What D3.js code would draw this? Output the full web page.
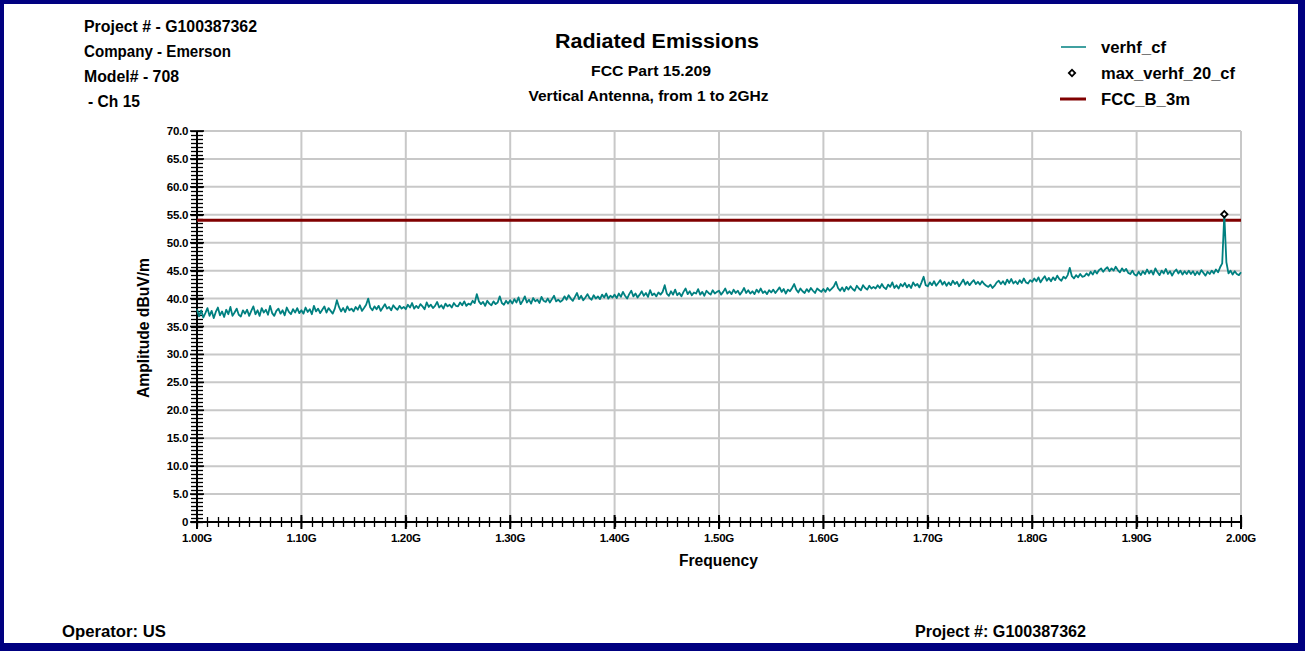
<!DOCTYPE html>
<html>
<head>
<meta charset="utf-8">
<script src="https://cdn.jsdelivr.net/npm/d3@7"></script>
<style>
  html, body { margin: 0; padding: 0; background: #fff; }
  svg { display: block; font-family: "Liberation Sans", Arial, sans-serif; }
</style>
</head>
<body>
<svg id="chart" width="1305" height="651"></svg>
<script>
// Sweep settings (GHz)
const sweepStartGHz = 1.0;
const sweepStepGHz = 0.002;

// verhf_cf trace, dBuV/m, one value per 2 MHz step from 1.000 to 2.000 GHz
const verhfCf = [
  38.1, 36.8, 37.9, 36.6, 37.4, 38.3, 36.9, 37.8, 36.5, 37.6, 38.4, 37.0, 37.7, 36.7, 38.0, 37.2, 38.5, 36.9, 37.5, 38.2, 37.1, 36.8, 37.9, 37.3, 38.0,
  36.9, 37.8, 38.6, 37.2, 37.9, 36.9, 38.3, 37.5, 38.0, 37.1, 38.7, 37.4, 36.9, 37.8, 38.2, 37.3, 37.9, 37.0, 38.4, 37.6, 37.2, 38.1, 37.5, 38.3, 37.4,
  37.9, 37.3, 38.4, 37.6, 38.1, 37.2, 38.7, 37.7, 38.2, 37.4, 38.0, 38.6, 37.5, 38.3, 37.8, 37.3, 38.2, 39.7, 38.5, 37.7, 38.3, 37.6, 38.6, 37.9, 38.2,
  37.7, 38.5, 38.0, 38.8, 37.8, 38.3, 38.9, 40.0, 38.4, 37.9, 38.6, 38.1, 38.7, 37.8, 38.4, 39.0, 38.2, 38.5, 37.9, 38.8, 38.3, 38.0, 38.7, 38.2, 38.5,
  38.1, 38.9, 38.4, 39.2, 38.2, 38.7, 38.3, 39.0, 38.6, 38.1, 39.3, 38.5, 38.9, 38.3, 38.7, 39.4, 38.4, 38.8, 38.2, 39.1, 38.6, 38.9, 38.4, 39.2, 38.7,
  38.6, 39.3, 38.8, 39.5, 38.7, 39.1, 38.9, 39.6, 39.2, 40.8, 39.5, 39.0, 39.4, 38.7, 39.6, 39.1, 38.8, 39.5, 39.0, 39.3, 40.4, 39.2, 38.9, 39.6, 39.1,
  39.7, 39.1, 39.9, 39.3, 40.2, 39.0, 39.6, 40.4, 39.3, 39.8, 39.1, 40.1, 39.5, 39.8, 39.2, 40.3, 39.6, 39.4, 40.0, 39.3, 39.9, 40.5, 39.5, 39.8, 39.4,
  39.7, 40.4, 39.8, 40.6, 40.0, 39.6, 40.3, 41.0, 39.9, 40.5, 39.7, 40.2, 40.8, 40.1, 39.8, 40.6, 40.0, 40.4, 39.9, 40.7, 40.2, 40.9, 40.0, 40.5, 40.2,
  40.7, 40.1, 40.9, 40.3, 41.2, 40.5, 40.0, 40.8, 41.4, 40.4, 40.9, 40.2, 40.7, 41.3, 40.5, 41.0, 40.3, 41.5, 40.6, 40.9, 40.4, 41.1, 40.7, 41.2, 42.4,
  40.9, 40.5, 41.3, 40.7, 41.6, 40.6, 41.0, 40.4, 41.2, 41.8, 40.8, 41.3, 40.6, 41.1, 40.9, 41.7, 40.7, 41.2, 40.5, 41.4, 41.0, 40.7, 41.5, 40.9, 41.2,
  41.4, 40.7, 41.2, 41.8, 40.9, 41.3, 40.8, 41.6, 41.0, 41.4, 40.7, 41.2, 41.9, 41.0, 41.5, 40.9, 41.3, 40.8, 41.6, 41.1, 41.8, 41.0, 41.3, 40.8, 41.5,
  41.1, 41.6, 41.0, 41.5, 42.0, 41.2, 41.7, 40.9, 41.6, 41.3, 41.9, 42.6, 41.6, 41.1, 41.8, 41.3, 41.0, 41.7, 41.2, 41.9, 41.4, 41.0, 41.8, 41.5, 41.2,
  41.7, 41.2, 41.9, 41.4, 41.8, 42.2, 43.0, 41.9, 41.4, 42.0, 41.3, 42.1, 41.6, 42.2, 41.7, 41.4, 42.3, 41.8, 41.5, 42.4, 41.9, 41.6, 42.3, 41.8, 42.1,
  41.8, 42.4, 41.9, 42.6, 42.0, 41.7, 42.5, 42.1, 42.9, 41.9, 42.4, 41.8, 42.6, 42.2, 42.8, 42.0, 42.5, 41.9, 42.9, 42.3, 42.6, 42.0, 42.9, 43.9, 42.4,
  42.2, 42.9, 42.4, 43.1, 42.3, 42.8, 43.3, 42.5, 43.0, 42.3, 42.9, 42.4, 43.2, 42.6, 43.0, 42.2, 42.8, 43.4, 42.5, 43.0, 42.4, 42.9, 43.3, 42.6, 43.0,
  42.5, 43.1, 42.6, 42.3, 42.1, 42.5, 41.9, 42.3, 42.9, 43.2, 42.6, 43.1, 42.5, 43.4, 42.8, 43.5, 42.7, 43.1, 42.6, 43.3, 42.8, 43.6, 42.9, 42.7, 43.3,
  43.0, 43.6, 43.1, 43.8, 42.9, 43.5, 44.0, 43.2, 43.7, 43.1, 43.8, 43.3, 44.1, 43.5, 43.2, 43.9, 43.6, 44.2, 45.5, 44.0, 43.6, 44.2, 43.8, 44.4, 43.9,
  44.0, 44.5, 44.1, 44.8, 44.3, 45.0, 44.5, 45.1, 45.4, 44.8, 45.3, 45.6, 44.9, 45.4, 45.0, 45.7, 45.1, 44.7, 45.4, 44.9, 45.3, 44.6, 44.4, 45.0, 44.3,
  44.1, 44.8, 44.2, 44.9, 44.4, 45.2, 44.5, 45.0, 44.3, 45.4, 44.7, 44.2, 45.0, 44.5, 45.3, 44.4, 44.9, 44.1, 44.8, 45.2, 44.5, 45.0, 44.3, 44.9, 44.4,
  45.0, 44.4, 44.9, 44.2, 44.8, 44.3, 45.1, 44.6, 44.1, 44.8, 44.4, 45.0, 44.5, 45.2, 44.7, 45.6, 46.3, 55.1, 46.5, 44.5, 45.0, 44.3, 44.9, 44.4, 44.2,
  44.7
];

// max_verhf_20_cf peak marker
const maxFreqGHz = [1.984];
const maxLevel = [55.1];

// FCC_B_3m limit line
const limitFreqGHz = [1.0, 2.0];
const limitLevel = [54.0, 54.0];

// Axis ticks
const xTicks = [1.0, 1.1, 1.2, 1.3, 1.4, 1.5, 1.6, 1.7, 1.8, 1.9, 2.0];
const yTicks = [0, 5, 10, 15, 20, 25, 30, 35, 40, 45, 50, 55, 60, 65, 70];

const headerLines = ["Project # - G100387362", "Company - Emerson", "Model# - 708", "- Ch 15"];
const titleLines = ["Radiated Emissions", "FCC Part 15.209", "Vertical Antenna, from 1 to 2GHz"];
const legendNames = ["verhf_cf", "max_verhf_20_cf", "FCC_B_3m"];
const footerLeft = "Operator: US";
const footerRight = "Project #: G100387362";

const W = 1305, H = 651;
const plot = { left: 197, right: 1241, top: 131, bottom: 522 };
const teal = "#008080", limitRed = "#800000", navy = "#000080", gridGray = "#c8c8c8";

const svg = d3.select("#chart");

// Text helper: bold label fitted to a set width
function label(parent, str, xPos, yPos, size, width, anchor) {
  const t = parent.append("text")
    .attr("x", xPos).attr("y", yPos)
    .attr("font-size", size).attr("font-weight", "bold")
    .attr("text-anchor", anchor || "start")
    .text(str);
  if (width) t.attr("textLength", width).attr("lengthAdjust", "spacingAndGlyphs");
  return t;
}

// Frame with heavier right/bottom edges
svg.append("rect").attr("x", 0).attr("y", 0).attr("width", W).attr("height", H).attr("fill", navy);
svg.append("rect").attr("x", 4).attr("y", 4).attr("width", 1294).attr("height", 639).attr("fill", "#fff");

const x = d3.scaleLinear().domain([1.0, 2.0]).range([plot.left, plot.right]);
const y = d3.scaleLinear().domain([0, 70]).range([plot.bottom, plot.top]);

// Grid
const grid = svg.append("g");
grid.selectAll("line.gx").data(xTicks.slice(1)).enter().append("line")
  .attr("x1", d => x(d)).attr("x2", d => x(d))
  .attr("y1", plot.top).attr("y2", plot.bottom)
  .attr("stroke", gridGray).attr("stroke-width", 2);
grid.selectAll("line.gy").data(yTicks.slice(1)).enter().append("line")
  .attr("x1", plot.left).attr("x2", plot.right)
  .attr("y1", d => y(d)).attr("y2", d => y(d))
  .attr("stroke", gridGray).attr("stroke-width", 2);

// Y axis: minor ticks (seven per major step) crossing the axis line
const yMinor = d3.range(0, 99).map(i => i * 5 / 7);
const yAxisG = svg.append("g").attr("transform", `translate(${plot.left},0)`);
yAxisG.selectAll("line.ymin").data(yMinor).enter().append("line")
  .attr("x1", -6).attr("x2", 6)
  .attr("y1", d => Math.round(y(d)) + 0.5).attr("y2", d => Math.round(y(d)) + 0.5)
  .attr("stroke", "#000").attr("stroke-width", 1.3);
yAxisG.selectAll("line.ymaj").data(yTicks).enter().append("line")
  .attr("x1", -7).attr("x2", 7)
  .attr("y1", d => y(d)).attr("y2", d => y(d))
  .attr("stroke", "#000").attr("stroke-width", 1.6);
yAxisG.append("line").attr("x1", 0).attr("x2", 0).attr("y1", plot.top).attr("y2", plot.bottom + 6)
  .attr("stroke", "#000").attr("stroke-width", 2);
yAxisG.selectAll("text").data(yTicks).enter().append("text")
  .attr("x", -9).attr("y", d => y(d) + 4)
  .attr("text-anchor", "end").attr("font-size", 11.5).attr("font-weight", "bold")
  .attr("letter-spacing", -0.3)
  .text(d => d === 0 ? "0" : d3.format(".1f")(d));

// X axis: minor ticks crossing the axis line
const xMinor = d3.range(0, 101).map(i => 1.0 + i * 0.01);
const xAxisG = svg.append("g").attr("transform", `translate(0,${plot.bottom})`);
xAxisG.selectAll("line.xmin").data(xMinor).enter().append("line")
  .attr("x1", d => Math.round(x(d)) + 0.5).attr("x2", d => Math.round(x(d)) + 0.5)
  .attr("y1", -5).attr("y2", 5)
  .attr("stroke", "#000").attr("stroke-width", 1.3);
xAxisG.selectAll("line.xmaj").data(xTicks).enter().append("line")
  .attr("x1", d => x(d)).attr("x2", d => x(d))
  .attr("y1", -7).attr("y2", 7)
  .attr("stroke", "#000").attr("stroke-width", 2);
xAxisG.append("line").attr("x1", plot.left - 6).attr("x2", plot.right).attr("y1", 0).attr("y2", 0)
  .attr("stroke", "#000").attr("stroke-width", 2);
xAxisG.selectAll("text").data(xTicks).enter().append("text")
  .attr("x", d => x(d)).attr("y", 20)
  .attr("text-anchor", "middle").attr("font-size", 11.5).attr("font-weight", "bold")
  .attr("letter-spacing", -0.3)
  .text(d => d3.format(".2f")(d) + "G");

// Axis titles
label(svg, "Frequency", 718.5, 566, 16, 79, "middle");
label(svg, "Amplitude dBuV/m", 0, 0, 16, 140, "middle")
  .attr("transform", "translate(148.5,328) rotate(-90)");

// Limit line
const limitData = limitFreqGHz.map((f, i) => ({ f, v: limitLevel[i] }));
svg.append("path").datum(limitData)
  .attr("d", d3.line().x(d => x(d.f)).y(d => y(d.v)))
  .attr("fill", "none").attr("stroke", limitRed).attr("stroke-width", 3);

// Trace
const traceData = verhfCf.map((v, i) => ({ f: sweepStartGHz + i * sweepStepGHz, v }));
svg.append("path").datum(traceData)
  .attr("d", d3.line().x(d => x(d.f)).y(d => y(d.v)))
  .attr("fill", "none").attr("stroke", teal).attr("stroke-width", 1.8).attr("stroke-linejoin", "round");

// Peak marker: small open diamond
const diamond = d3.symbol().type(d3.symbolSquare).size(20);
svg.selectAll("path.peak").data(maxFreqGHz.map((f, i) => ({ f, v: maxLevel[i] }))).enter()
  .append("path").attr("class", "peak")
  .attr("transform", d => `translate(${x(d.f)},${y(d.v)}) rotate(45)`)
  .attr("d", diamond).attr("fill", "#fff").attr("stroke", "#000").attr("stroke-width", 1.8);

// Header block
const headerWidths = [173, 147, 95, 52];
const headerX = [84, 84, 84, 88];
headerLines.forEach((s, i) => label(svg, s, headerX[i], 31.5 + i * 25.2, 16, headerWidths[i]));

// Titles
label(svg, titleLines[0], 657, 47.5, 20, 204, "middle");
label(svg, titleLines[1], 651, 76, 15.5, 120, "middle");
label(svg, titleLines[2], 648.5, 101, 15.5, 240, "middle");

// Legend
const legend = svg.append("g");
legend.append("line").attr("x1", 1061).attr("x2", 1086).attr("y1", 47).attr("y2", 47)
  .attr("stroke", teal).attr("stroke-width", 1.5);
legend.append("path").attr("transform", "translate(1072,73) rotate(45)").attr("d", diamond)
  .attr("fill", "#fff").attr("stroke", "#000").attr("stroke-width", 1.8);
legend.append("line").attr("x1", 1060).attr("x2", 1086).attr("y1", 99).attr("y2", 99)
  .attr("stroke", limitRed).attr("stroke-width", 3);
const legendWidths = [65, 134, 89];
legendNames.forEach((s, i) => label(legend, s, 1101, 52.5 + i * 26, 16, legendWidths[i]));

// Footer
label(svg, footerLeft, 62, 637, 16, 104);
label(svg, footerRight, 915, 637, 16, 171);
</script>
</body>
</html>
